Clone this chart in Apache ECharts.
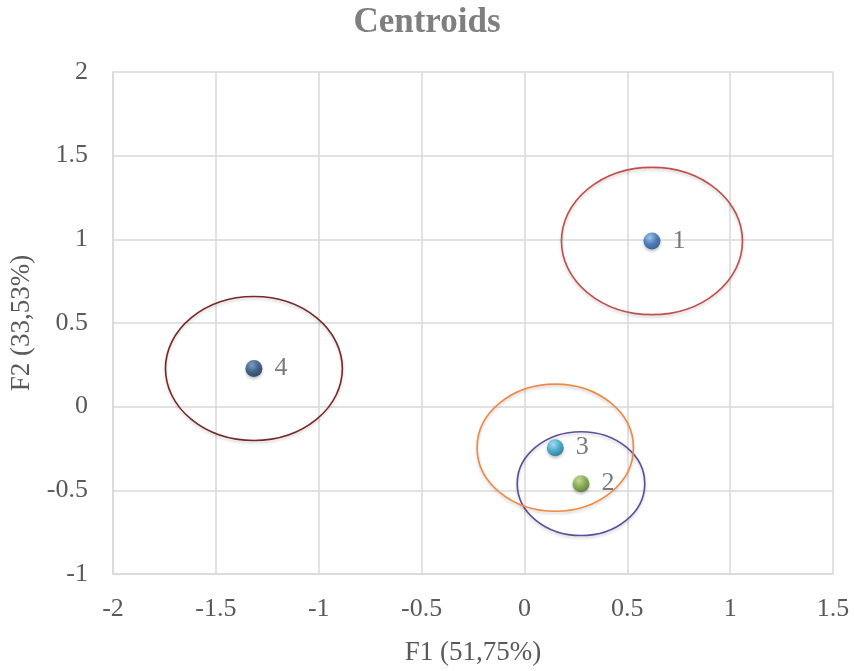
<!DOCTYPE html>
<html lang="en">
<head>
  <meta charset="utf-8">
  <title>Centroids</title>
  <script src="https://cdn.jsdelivr.net/npm/echarts@6/dist/echarts.min.js"></script>
  <style>
    html, body { margin: 0; padding: 0; background: #fff; }
    #chart { width: 854px; height: 671px; }
  </style>
</head>
<body>
<div id="chart"></div>
<script>
  // centroid coordinates
  const clusterNames = ['1', '2', '3', '4'];
  const f1Values = [0.62, 0.275, 0.15, -1.315];
  const f2Values = [0.99, -0.46, -0.245, 0.228];
  // radius of the circle drawn round each centroid (data units)
  const ringRadius = [0.44, 0.31, 0.38, 0.43];

  const xTicks = [-2, 1.5, 0.5];   // min, max, step
  const yTicks = [-1, 2, 0.5];

  // styles
  const ringColors = ['#c0504d', '#5d4d9c', '#ef8a45', '#772828'];
  const dotColors = [
    ['#9cc2ec', '#2f6fb8', '#1c4c86'],
    ['#c2e08f', '#78a53b', '#4f7424'],
    ['#9fe0f4', '#2aa6cf', '#17708f'],
    ['#6f93bf', '#1f4a7b', '#122e50']
  ];
  const serif = '"Liberation Serif", "DejaVu Serif", serif';
  const textGrey = '#595959';

  const chart = echarts.init(document.getElementById('chart'));

  const ringData = f1Values.map((x, i) => [x, f2Values[i], ringRadius[i]]);
  const dotData = f1Values.map((x, i) => ({
    name: clusterNames[i],
    value: [x, f2Values[i]],
    itemStyle: {
      color: {
        type: 'radial', x: 0.38, y: 0.32, r: 0.7,
        colorStops: [
          { offset: 0, color: dotColors[i][0] },
          { offset: 0.55, color: dotColors[i][1] },
          { offset: 1, color: dotColors[i][2] }
        ]
      }
    }
  }));

  const option = {
    backgroundColor: '#fff',
    animation: false,
    title: {
      text: 'Centroids',
      left: 'center',
      top: 0,
      textStyle: { fontFamily: serif, fontSize: 35, fontWeight: 'bold', color: '#7f7f7f' }
    },
    grid: { left: 110, right: 21, top: 72, bottom: 95 },
    xAxis: {
      type: 'value',
      min: xTicks[0], max: xTicks[1], interval: xTicks[2],
      name: 'F1 (51,75%)',
      nameLocation: 'middle',
      nameGap: 65,
      nameTextStyle: { fontFamily: serif, fontSize: 27, color: textGrey },
      axisLine: { show: true, onZero: false, lineStyle: { color: '#d9d9d9', width: 1.5 } },
      axisTick: { show: false },
      axisLabel: { fontFamily: serif, fontSize: 26, color: textGrey, margin: 22 },
      splitLine: { lineStyle: { color: '#d9d9d9', width: 1.5 } }
    },
    yAxis: {
      type: 'value',
      min: yTicks[0], max: yTicks[1], interval: yTicks[2],
      name: 'F2 (33,53%)',
      nameLocation: 'middle',
      nameGap: 78,
      nameTextStyle: { fontFamily: serif, fontSize: 27, color: textGrey },
      axisLine: { show: true, onZero: false, lineStyle: { color: '#d9d9d9', width: 1.5 } },
      axisTick: { show: false },
      axisLabel: { fontFamily: serif, fontSize: 26, color: textGrey, margin: 25 },
      splitLine: { lineStyle: { color: '#d9d9d9', width: 1.5 } }
    },
    series: [
      {
        type: 'custom',
        data: ringData,
        encode: { x: 0, y: 1 },
        silent: true,
        z: 2,
        renderItem: function (params, api) {
          const c = api.coord([api.value(0), api.value(1)]);
          const s = api.size([api.value(2), api.value(2)]);
          const rx = s[0], ry = s[1];
          const d = 'M ' + (c[0] - rx) + ' ' + c[1] +
            ' A ' + rx + ' ' + ry + ' 0 1 0 ' + (c[0] + rx) + ' ' + c[1] +
            ' A ' + rx + ' ' + ry + ' 0 1 0 ' + (c[0] - rx) + ' ' + c[1] + ' Z';
          return {
            type: 'path',
            shape: { pathData: d },
            style: {
              fill: null,
              stroke: ringColors[params.dataIndex],
              lineWidth: 1.6,
              shadowBlur: 3,
              shadowOffsetY: 2,
              shadowColor: 'rgba(0,0,0,0.2)'
            }
          };
        }
      },
      {
        type: 'scatter',
        data: dotData,
        symbolSize: 17,
        z: 3,
        itemStyle: { shadowBlur: 3, shadowOffsetY: 2, shadowColor: 'rgba(0,0,0,0.3)' },
        label: {
          show: true,
          position: 'right',
          distance: 12,
          formatter: '{b}',
          fontFamily: serif,
          fontSize: 26,
          color: textGrey
        }
      }
    ]
  };

  chart.setOption(option);
</script>
</body>
</html>
